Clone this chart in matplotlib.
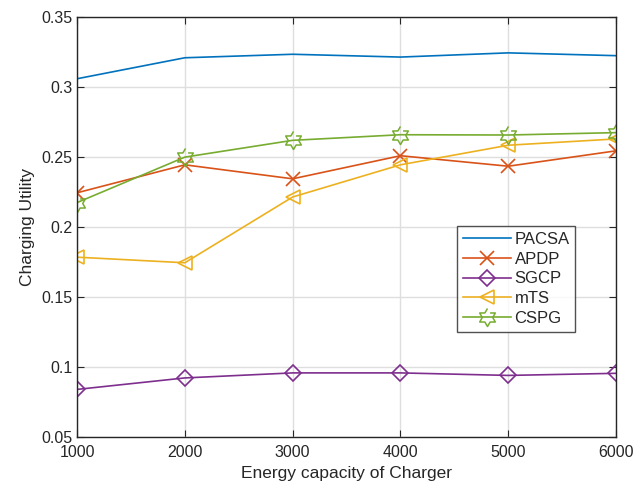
import numpy as np
import matplotlib
matplotlib.use("Agg")
import matplotlib.pyplot as plt

plt.rcParams['font.family'] = ['Liberation Sans', 'DejaVu Sans']

capacity = [1000, 2000, 3000, 4000, 5000, 6000]
pacsa = [0.306, 0.321, 0.3235, 0.3215, 0.3245, 0.3225]
apdp = [0.2245, 0.2445, 0.2345, 0.2510, 0.2435, 0.2545]
sgcp = [0.0840, 0.0922, 0.0958, 0.0958, 0.0940, 0.0955]
mts = [0.1785, 0.1745, 0.2215, 0.2445, 0.2585, 0.2630]
cspg = [0.2175, 0.2500, 0.2620, 0.2660, 0.2658, 0.2675]

yticks = [0.05, 0.1, 0.15, 0.2, 0.25, 0.3, 0.35]
ylabels = ['0.05', '0.1', '0.15', '0.2', '0.25', '0.3', '0.35']

# six-pointed star like MATLAB's hexagram
ang = np.pi / 2 + np.arange(12) * np.pi / 6
rad = np.where(np.arange(12) % 2 == 0, 1.0, 0.58)
hexagram = list(zip(rad * np.cos(ang), rad * np.sin(ang)))

fig = plt.figure(figsize=(6.44, 4.91), dpi=100)
ax = fig.add_axes([0.1196, 0.110, 0.837, 0.855])

ax.plot(capacity, pacsa, color='#0072BD', lw=1.2, label='PACSA')
ax.plot(capacity, apdp, color='#D95319', lw=1.2, marker='x', ms=10, mew=1.2, label='APDP')
ax.plot(capacity, sgcp, color='#7E2F8E', lw=1.2, marker='D', ms=8, mfc='none', mew=1.2, label='SGCP')
ax.plot(capacity, mts, color='#EDB120', lw=1.2, marker='<', ms=10, mfc='none', mew=1.2, label='mTS')
ax.plot(capacity, cspg, color='#77AC30', lw=1.2, marker=hexagram, ms=13, mfc='none', mew=1.1, label='CSPG')

ax.set_xlim(1000, 6000)
ax.set_ylim(0.05, 0.35)
ax.set_xticks(capacity)
ax.set_yticks(yticks)
ax.set_yticklabels(ylabels)
ax.grid(True, color='#dedede', lw=1)
ax.set_axisbelow(True)
ax.tick_params(direction='in', length=5, colors='#262626', labelsize=11.5, top=True, right=True, labeltop=False, labelright=False)
ax.tick_params(axis='x', pad=6)
for s in ax.spines.values():
    s.set_color('#262626')
    s.set_linewidth(1)

ax.set_xlabel('Energy capacity of Charger', fontsize=12.5, color='#262626', labelpad=4)
ax.set_ylabel('Charging Utility', fontsize=12.5, color='#262626', labelpad=4)

leg = ax.legend(loc='upper left', bbox_to_anchor=(0.705, 0.502), fontsize=12,
                frameon=True, fancybox=False, borderpad=0.35, labelspacing=0.28,
                handlelength=2.9, handletextpad=0.2, borderaxespad=0)
leg.get_frame().set_edgecolor('#262626')
leg.get_frame().set_linewidth(1)
for t in leg.get_texts():
    t.set_color('#262626')

fig.savefig('out.png', dpi=100)
